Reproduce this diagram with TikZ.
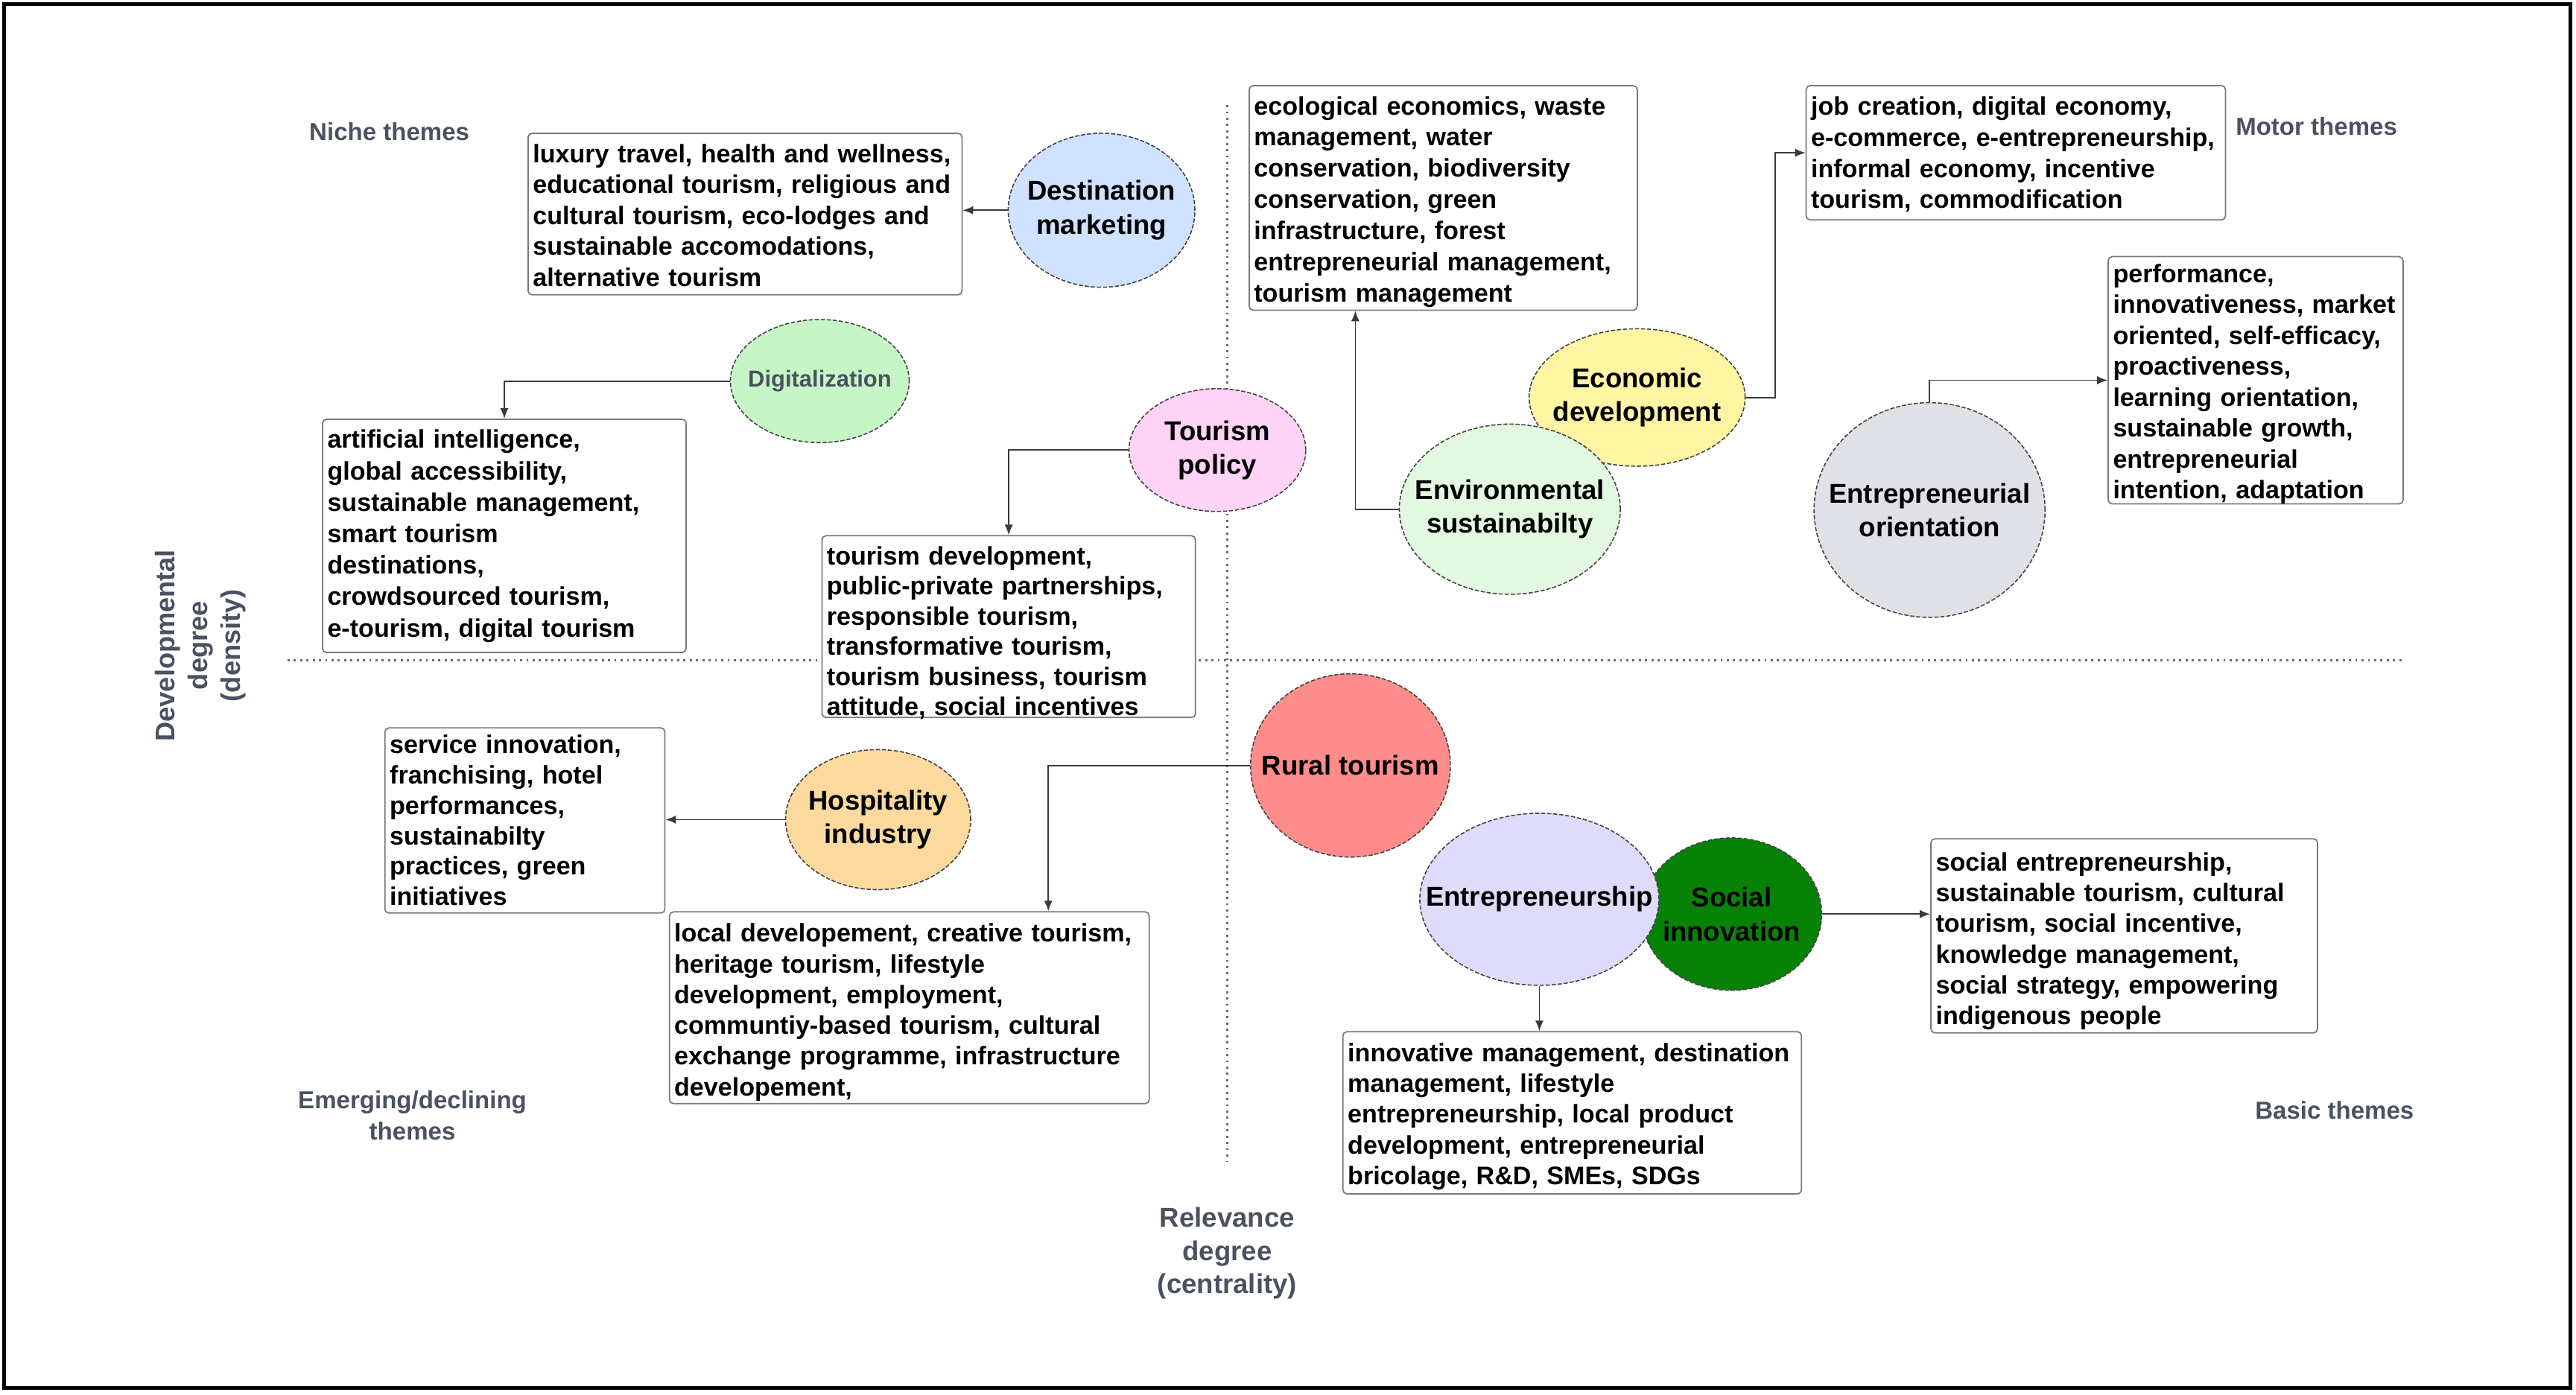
\documentclass[tikz,border=0pt]{standalone}
\usepackage{fontspec}
\setmainfont{Liberation Sans}
\usetikzlibrary{shapes.geometric,arrows.meta,calc}
\definecolor{boxgray}{HTML}{7A7A7A}
\definecolor{ellgray}{HTML}{444444}
\definecolor{conncol}{HTML}{3A3A3A}
\definecolor{labgray}{HTML}{4A5160}
\definecolor{axisgray}{HTML}{6A6A6A}
\definecolor{cDM}{HTML}{CFE2FF}
\definecolor{cDG}{HTML}{C6F6C6}
\definecolor{cTP}{HTML}{FDD3F6}
\definecolor{cED}{HTML}{FFF5A3}
\definecolor{cES}{HTML}{E2F8E0}
\definecolor{cEO}{HTML}{DFE1E6}
\definecolor{cRT}{HTML}{FF8C8A}
\definecolor{cHI}{HTML}{FCDA9E}
\definecolor{cEN}{HTML}{DEDCFA}
\definecolor{cSI}{HTML}{078207}
\newcommand{\bxf}[1]{\bfseries\fontsize{9.7}{#1}\selectfont}
\begin{document}
\begin{tikzpicture}[x=0.022054cm,y=-0.022054cm,
  boxshape/.style={draw=boxgray, line width=0.5pt, rounded corners=1.5pt, fill=white, inner sep=0pt},
  boxtext/.style={anchor=north west, inner sep=0pt, align=left, text width=190pt},
  theme/.style={ellipse, draw=ellgray, line width=0.45pt, dash pattern=on 1.6pt off 0.7pt, inner sep=0pt},
  ttext/.style={align=center, font=\bfseries\fontsize{10.4}{12.9}\selectfont},
  conn/.style={draw=conncol, line width=0.5pt, -{Latex[length=4pt,width=3.2pt]}},
  quad/.style={text=labgray, align=center, font=\bfseries\fontsize{9.4}{11.9}\selectfont},
  axisline/.style={draw=axisgray, line width=0.8pt, dash pattern=on 0.8pt off 1.6pt}]
\useasboundingbox (0,0) rectangle (1568,849);
% frame
\coordinate (F1) at (2.5,2.5);
\coordinate (F2) at (1564.5,845);
\draw[line width=1.4pt] (F1) rectangle (F2);
% axes
\coordinate (HA) at (175,402);
\coordinate (HB) at (1462,402);
\coordinate (VA) at (747,64);
\coordinate (VB) at (747,707);
\draw[axisline] (HA) -- (HB);
\draw[axisline] (VA) -- (VB);
% quadrant labels
\node[quad] (niche) at (237,80) {Niche themes};
\node[quad] (motor) at (1410,77) {Motor themes};
\node[quad] (emerg) at (251,679) {Emerging/declining\\themes};
\node[quad] (basic) at (1421,676) {Basic themes};
\node[text=labgray, align=center, font=\bfseries\fontsize{10.4}{12.6}\selectfont] (xlab) at (747,763) {Relevance\\degree\\(centrality)};
\node[text=labgray, align=center, rotate=90, font=\bfseries\fontsize{10.3}{12.5}\selectfont] (ylab) at (122,393) {Developmental\\degree\\(density)};
% boxes (frames)
\node[boxshape, minimum width=165.7pt, minimum height=61.7pt] (B1) at (453.5,130.3) {};
\node[boxshape, minimum width=148.2pt, minimum height=85.7pt] (B2) at (878.5,120.5) {};
\node[boxshape, minimum width=160.1pt, minimum height=51.3pt] (B3) at (1227,93) {};
\node[boxshape, minimum width=112.6pt, minimum height=94.4pt] (B4) at (1373,231.5) {};
\node[boxshape, minimum width=138.8pt, minimum height=89.1pt] (B5) at (307,326.25) {};
\node[boxshape, minimum width=142.6pt, minimum height=69.4pt] (B6) at (614,381.5) {};
\node[boxshape, minimum width=106.9pt, minimum height=70.7pt] (B7) at (319.5,499.5) {};
\node[boxshape, minimum width=183.2pt, minimum height=73.2pt] (B8) at (553.5,613.5) {};
\node[boxshape, minimum width=175.1pt, minimum height=61.9pt] (B9) at (957,677.5) {};
\node[boxshape, minimum width=147.6pt, minimum height=74.1pt] (B10) at (1293,569.75) {};
% box texts
\node[boxtext, font=\bxf{11.8}] (B1t) at ($(B1.north west)+(3,4.8)$) {\strut luxury travel, health and wellness,\\educational tourism, religious and\\cultural tourism, eco-lodges and\\sustainable accomodations,\\alternative tourism};
\node[boxtext, font=\bxf{11.9}] (B2t) at ($(B2.north west)+(3,4.5)$) {\strut ecological economics, waste\\management, water\\conservation, biodiversity\\conservation, green\\infrastructure, forest\\entrepreneurial management,\\tourism management};
\node[boxtext, font=\bxf{11.9}] (B3t) at ($(B3.north west)+(3,4.7)$) {\strut job creation, digital economy,\\e-commerce, e-entrepreneurship,\\informal economy, incentive\\tourism, commodification};
\node[boxtext, font=\bxf{11.8}] (B4t) at ($(B4.north west)+(3,2.6)$) {\strut performance,\\innovativeness, market\\oriented, self-efficacy,\\proactiveness,\\learning orientation,\\sustainable growth,\\entrepreneurial\\intention, adaptation};
\node[boxtext, font=\bxf{12.0}] (B5t) at ($(B5.north west)+(3,4.4)$) {\strut artificial intelligence,\\global accessibility,\\sustainable management,\\smart tourism\\destinations,\\crowdsourced tourism,\\e-tourism, digital tourism};
\node[boxtext, font=\bxf{11.5}] (B6t) at ($(B6.north west)+(3,5.0)$) {\strut tourism development,\\public-private partnerships,\\responsible tourism,\\transformative tourism,\\tourism business, tourism\\attitude, social incentives};
\node[boxtext, font=\bxf{11.6}] (B7t) at ($(B7.north west)+(3,2.8)$) {\strut service innovation,\\franchising, hotel\\performances,\\sustainabilty\\practices, green\\initiatives};
\node[boxtext, font=\bxf{11.75}] (B8t) at ($(B8.north west)+(3,5.3)$) {\strut local developement, creative tourism,\\heritage tourism, lifestyle\\development, employment,\\communtiy-based tourism, cultural\\exchange programme, infrastructure\\developement,};
\node[boxtext, font=\bxf{11.7}] (B9t) at ($(B9.north west)+(3,5.3)$) {\strut innovative management, destination\\management, lifestyle\\entrepreneurship, local product\\development, entrepreneurial\\bricolage, R\&D, SMEs, SDGs};
\node[boxtext, font=\bxf{11.75}] (B10t) at ($(B10.north west)+(3,6.5)$) {\strut social entrepreneurship,\\sustainable tourism, cultural\\tourism, social incentive,\\knowledge management,\\social strategy, empowering\\indigenous people};
% themes (ellipses)
\node[theme, fill=cDM, minimum width=71.3pt, minimum height=58.8pt] (DM) at (670.5,128) {};
\node[theme, fill=cDG, minimum width=68.3pt, minimum height=47pt] (DG) at (499,232) {};
\node[theme, fill=cTP, minimum width=67.5pt, minimum height=46.9pt] (TP) at (741,274) {};
\node[theme, fill=cED, minimum width=82.5pt, minimum height=52.5pt] (ED) at (996.5,242) {};
\node[theme, fill=cES, minimum width=84.4pt, minimum height=65pt] (ES) at (919,310) {};
\node[theme, fill=cEO, minimum width=88.2pt, minimum height=82pt] (EO) at (1174.5,310.5) {};
\node[theme, fill=cRT, minimum width=76.3pt, minimum height=70pt] (RT) at (822,466) {};
\node[theme, fill=cHI, minimum width=70.7pt, minimum height=53.5pt] (HI) at (534.5,499) {};
\node[theme, fill=cSI, minimum width=68.8pt, minimum height=58.2pt] (SI) at (1054,556.5) {};
\node[theme, fill=cEN, minimum width=91.3pt, minimum height=65.7pt] (EN) at (937,547.5) {};
% theme texts
\node[ttext] (DMt) at (DM.center) {Destination\\marketing};
\node[ttext, text=labgray, font=\bfseries\fontsize{8.8}{11}\selectfont] (DGt) at (DG.center) {Digitalization};
\node[ttext] (TPt) at (TP.center) {Tourism\\policy};
\node[ttext] (EDt) at (ED.center) {Economic\\development};
\node[ttext] (ESt) at (ES.center) {Environmental\\sustainabilty};
\node[ttext] (EOt) at (EO.center) {Entrepreneurial\\orientation};
\node[ttext] (RTt) at (RT.center) {Rural tourism};
\node[ttext] (HIt) at (HI.center) {Hospitality\\industry};
\node[ttext] (SIt) at (SI.center) {Social\\innovation};
\node[ttext] (ENt) at (EN.center) {Entrepreneurship};
% connectors
\draw[conn] (DM.west) -- (DM.west -| B1.east);
\draw[conn] (DG.west) -| (B5.north);
\draw[conn] (TP.west) -| (B6.north);
\draw[conn] (ED.east) -- ++(18,0) |- (B3.west);
\draw[conn] (ES.west) -| ($(B2.south west)+(65,0)$);
\draw[conn] (EO.north) |- (B4.west);
\draw[conn] (RT.west) -| ($(B8.north west)+(231,0)$);
\draw[conn] (HI.west) -- (HI.west -| B7.east);
\draw[conn] (EN.south) -- (EN.south |- B9.north);
\draw[conn] (SI.east) -- (SI.east -| B10.west);
\end{tikzpicture}
\end{document}
